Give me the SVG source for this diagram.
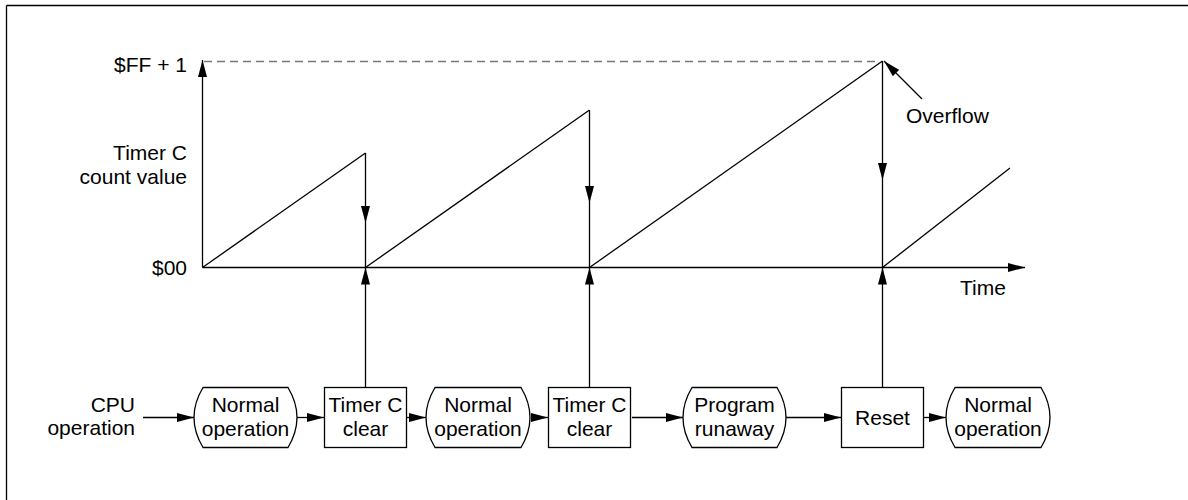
<svg xmlns="http://www.w3.org/2000/svg" width="1188" height="500" viewBox="0 0 1188 500">
<defs>
<style>
text{font-family:"Liberation Sans",Arial,sans-serif;font-size:21px;fill:#000}
.ln{stroke:#000;stroke-width:1.3;fill:none}
.box{stroke:#000;stroke-width:1.3;fill:#fff}
.c{text-anchor:middle}
.r{text-anchor:end}
.dash{stroke:#777;stroke-width:1.5;stroke-dasharray:8,5;fill:none}
</style>
<marker id="ah" markerUnits="userSpaceOnUse" markerWidth="17" markerHeight="9" refX="17" refY="4.5" orient="auto">
<path d="M0,0 L17,4.5 L0,9 Z" fill="#000"/>
</marker>
</defs>
<rect width="1188" height="500" fill="#fff"/>
<g id="frame">
<line x1="6.5" y1="5.5" x2="1188" y2="5.5" class="ln"/>
<line x1="6.5" y1="5.5" x2="6.5" y2="500" class="ln"/>
</g>
<g id="axes">
<line x1="202.5" y1="267.5" x2="202.5" y2="60" class="ln" marker-end="url(#ah)"/>
<line x1="202.5" y1="267.5" x2="1025" y2="267.5" class="ln" marker-end="url(#ah)"/>
<line x1="204" y1="61.5" x2="880" y2="61.5" class="dash"/>
<text x="187" y="72" class="r">$FF + 1</text>
<text x="187" y="160" class="r">Timer C</text>
<text x="187" y="183.5" class="r">count value</text>
<text x="187" y="275" class="r">$00</text>
<text x="960" y="295">Time</text>
<text x="906" y="123">Overflow</text>
</g>
<g id="connectors">
<line x1="202.5" y1="267.5" x2="365.5" y2="153" class="ln"/>
<line x1="365.5" y1="267.5" x2="589.5" y2="110" class="ln"/>
<line x1="589.5" y1="267.5" x2="882.5" y2="61" class="ln"/>
<line x1="882.5" y1="267.5" x2="1010" y2="168" class="ln"/>
<line x1="365.5" y1="153" x2="365.5" y2="223" class="ln" marker-end="url(#ah)"/>
<line x1="365.5" y1="223" x2="365.5" y2="267.5" class="ln"/>
<line x1="589.5" y1="110" x2="589.5" y2="203" class="ln" marker-end="url(#ah)"/>
<line x1="589.5" y1="203" x2="589.5" y2="267.5" class="ln"/>
<line x1="882.5" y1="61" x2="882.5" y2="180" class="ln" marker-end="url(#ah)"/>
<line x1="882.5" y1="180" x2="882.5" y2="267.5" class="ln"/>
<line x1="922" y1="99" x2="884" y2="61" class="ln" marker-end="url(#ah)"/>
<line x1="365.5" y1="387" x2="365.5" y2="267.5" class="ln" marker-end="url(#ah)"/>
<line x1="589.5" y1="387" x2="589.5" y2="267.5" class="ln" marker-end="url(#ah)"/>
<line x1="882.5" y1="387" x2="882.5" y2="267.5" class="ln" marker-end="url(#ah)"/>
<line x1="143" y1="417.5" x2="194" y2="417.5" class="ln" marker-end="url(#ah)"/>
<line x1="297" y1="417.5" x2="324" y2="417.5" class="ln" marker-end="url(#ah)"/>
<line x1="407" y1="417.5" x2="426" y2="417.5" class="ln" marker-end="url(#ah)"/>
<line x1="531" y1="417.5" x2="548" y2="417.5" class="ln" marker-end="url(#ah)"/>
<line x1="632" y1="417.5" x2="683" y2="417.5" class="ln" marker-end="url(#ah)"/>
<line x1="786" y1="417.5" x2="841" y2="417.5" class="ln" marker-end="url(#ah)"/>
<line x1="923" y1="417.5" x2="946" y2="417.5" class="ln" marker-end="url(#ah)"/>
</g>
<g id="cpu">
<text x="135" y="412" class="r">CPU</text>
<text x="135" y="435" class="r">operation</text>
</g>
<g id="normal1">
<path d="M203,387.5 L288,387.5 Q306,417.5 288,447.5 L203,447.5 Q185,417.5 203,387.5 Z" class="box"/>
<text x="245.5" y="412" class="c">Normal</text>
<text x="245.5" y="436" class="c">operation</text>
</g>
<g id="clear1">
<rect x="324.5" y="387.5" width="82" height="60" class="box"/>
<text x="365.5" y="412" class="c">Timer C</text>
<text x="365.5" y="436" class="c">clear</text>
</g>
<g id="normal2">
<path d="M435,387.5 L521,387.5 Q539,417.5 521,447.5 L435,447.5 Q417,417.5 435,387.5 Z" class="box"/>
<text x="478" y="412" class="c">Normal</text>
<text x="478" y="436" class="c">operation</text>
</g>
<g id="clear2">
<rect x="548.5" y="387.5" width="82" height="60" class="box"/>
<text x="589.5" y="412" class="c">Timer C</text>
<text x="589.5" y="436" class="c">clear</text>
</g>
<g id="runaway">
<path d="M692,387.5 L777,387.5 Q795,417.5 777,447.5 L692,447.5 Q674,417.5 692,387.5 Z" class="box"/>
<text x="734.5" y="412" class="c">Program</text>
<text x="734.5" y="436" class="c">runaway</text>
</g>
<g id="reset">
<rect x="841.5" y="387.5" width="82" height="60" class="box"/>
<text x="882.5" y="425" class="c">Reset</text>
</g>
<g id="normal3">
<path d="M955,387.5 L1041,387.5 Q1059,417.5 1041,447.5 L955,447.5 Q937,417.5 955,387.5 Z" class="box"/>
<text x="998" y="412" class="c">Normal</text>
<text x="998" y="436" class="c">operation</text>
</g>
</svg>
